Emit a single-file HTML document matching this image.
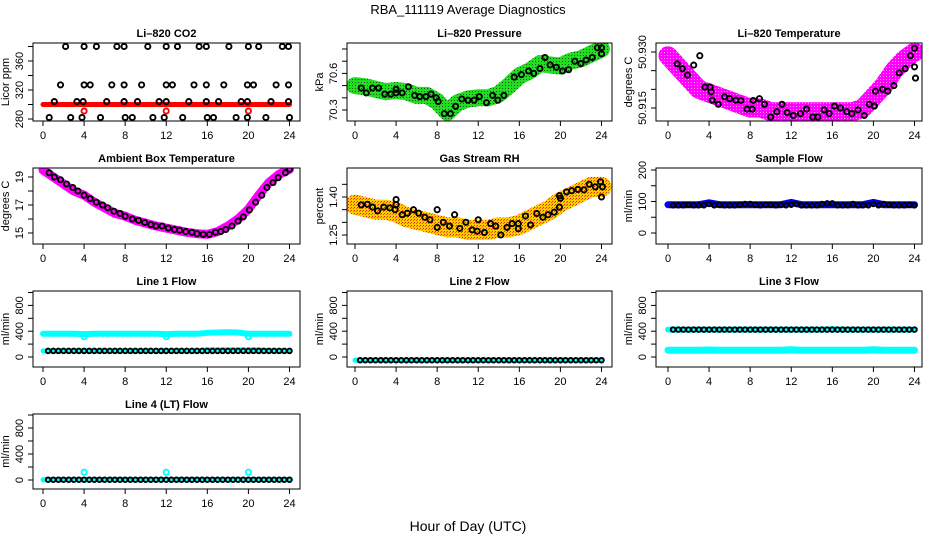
<!DOCTYPE html>
<html><head><meta charset="utf-8"><style>
html,body{margin:0;padding:0;background:#fff}
svg{display:block;font-family:"Liberation Sans",Arial,sans-serif}
</style></head><body>
<svg id="chart" width="936" height="540" viewBox="0 0 936 540" xmlns="http://www.w3.org/2000/svg">
<defs>
<pattern id="pGreen" width="3" height="3" patternUnits="userSpaceOnUse"><rect width="3" height="3" fill="#22dd22"/><rect x="1" y="1" width="1" height="1" fill="#0a5a0a"/></pattern>
<pattern id="pRH" width="3" height="3" patternUnits="userSpaceOnUse"><rect width="3" height="3" fill="#ffcc00"/><rect x="0" y="0" width="1" height="1" fill="#ee2200"/><rect x="2" y="1" width="1" height="1" fill="#ee5500"/></pattern>
<pattern id="pMag" width="3" height="3" patternUnits="userSpaceOnUse"><rect width="3" height="3" fill="#ff00ff"/><rect x="1" y="1" width="1" height="1" fill="#ff99ff"/></pattern>
</defs>
<text x="468" y="14" text-anchor="middle" font-size="13">RBA_111119  Average Diagnostics</text>
<text x="468" y="531" text-anchor="middle" font-size="14">Hour of Day (UTC)</text>
</svg>
<script>
// ---------- data ----------
const xTicks = [0,4,8,12,16,20,24];
const hourlyCats = [0,1,2,3,4,5,6,7,8,9,10,11,12,13,14,15,16,17,18,19,20,21,22,23,24];
const halfHourCats = [];
for (let i = 1; i <= 48; i++) halfHourCats.push(i * 0.5);

// CO2
const co2BandValues = [300,300,300,300,300,300,300,300,300,300,300,300,300,300,300,300,300,300,300,300,300,300,300,300,300];
const co2BlackHours = [2.2,4.0,5.2,7.2,7.9,10.2,12.0,13.1,15.2,15.9,18.1,20.0,21.0,23.3,23.9, 1.7,4.0,4.6,6.7,7.9,9.6,12.0,12.6,14.7,15.9,17.6,19.9,20.5,22.7,23.9, 1.1,3.3,3.9,6.2,7.9,9.2,11.3,12.0,14.2,15.9,17.1,19.3,19.9,22.2,23.9, 0.6,2.7,3.8,5.6,8.0,8.7,10.7,11.8,13.6,16.0,16.6,18.8,19.9,21.7,24.0];
const co2BlackValues = [380,380,380,380,380,380,380,380,380,380,380,380,380,380,380, 327,327,327,327,327,327,327,327,327,327,327,327,327,327,327, 304,304,304,304,304,304,304,304,304,304,304,304,304,304,304, 282,282,282,282,282,282,282,282,282,282,282,282,282,282,282];
const co2RedHours = [4,12,20];
const co2RedValues = [291,291,291];

// Pressure
const presBandValues = [70.50,70.49,70.47,70.45,70.46,70.45,70.42,70.42,70.37,70.28,70.36,70.39,70.40,70.40,70.43,70.50,70.58,70.62,70.68,70.67,70.66,70.70,70.72,70.76,70.80];
const presBlackHours = [0.6,1.1,1.7,2.3,2.9,3.5,4.0,4.0,4.6,5.2,5.8,6.3,6.9,7.4,7.9,8.1,8.7,9.3,9.8,10.4,11.0,11.6,12.1,12.8,13.4,13.9,14.5,15.5,16.2,16.9,17.4,18.0,18.5,19.0,19.6,20.2,20.8,21.4,22.0,22.5,23.1,23.6,24.0,24.0];
const presBlackValues = [70.48,70.44,70.48,70.48,70.43,70.43,70.44,70.47,70.44,70.49,70.42,70.41,70.41,70.43,70.40,70.37,70.27,70.27,70.33,70.39,70.38,70.38,70.41,70.36,70.42,70.38,70.42,70.57,70.59,70.62,70.60,70.64,70.73,70.67,70.65,70.62,70.63,70.70,70.68,70.71,70.73,70.81,70.81,70.76];

// Li-820 temperature
const liTBandValues = [50.929,50.926,50.923,50.920,50.919,50.918,50.917,50.916,50.915,50.915,50.914,50.914,50.914,50.914,50.914,50.914,50.914,50.914,50.914,50.915,50.918,50.921,50.925,50.928,50.930];
const liTBlackHours = [0.9,1.4,1.9,2.5,3.1,3.6,4.1,4.2,4.3,4.9,5.5,6.0,6.6,7.1,7.7,8.2,8.3,8.9,9.4,10.0,10.6,11.1,11.6,12.2,12.9,13.5,14.1,14.6,15.2,15.7,16.2,16.8,17.4,17.9,18.5,19.1,19.6,20.1,20.2,20.9,21.4,22.0,22.5,23.1,23.6,24.0,24.0,24.1];
const liTBlackValues = [50.9268,50.9255,50.9238,50.9265,50.9290,50.9206,50.9206,50.9193,50.9171,50.9160,50.9180,50.9175,50.9171,50.9170,50.9147,50.9147,50.9170,50.9175,50.9160,50.9126,50.9140,50.9160,50.9138,50.9130,50.9135,50.9147,50.9126,50.9126,50.9145,50.9135,50.9155,50.9150,50.9140,50.9135,50.9145,50.9130,50.9160,50.9155,50.9195,50.9200,50.9195,50.9210,50.9244,50.9255,50.9290,50.9310,50.9260,50.9230];

// Ambient box temperature
const ambBandValues = [19.5,19.0,18.5,18.0,17.7,17.2,16.8,16.4,16.2,15.9,15.7,15.5,15.35,15.2,15.05,14.95,14.9,15.1,15.5,16.0,16.7,17.7,18.6,19.2,19.55];
const ambBlackHours = [0.6,1.1,1.7,2.3,2.9,3.4,4.0,4.6,5.2,5.8,6.3,6.9,7.5,8.0,8.7,9.3,9.9,10.5,11.0,11.6,12.2,12.8,13.3,13.9,14.5,15.0,15.6,16.2,16.8,17.3,17.8,18.4,19.0,19.5,20.1,20.7,21.3,21.8,22.4,22.9,23.6,24.0];
const ambBlackValues = [19.3,19.0,18.8,18.5,18.25,18.0,17.7,17.45,17.2,17.0,16.8,16.55,16.4,16.2,16.0,15.9,15.75,15.6,15.5,15.5,15.35,15.25,15.2,15.1,15.05,14.95,14.9,14.9,15.05,15.1,15.25,15.5,15.85,16.15,16.65,17.2,17.7,18.25,18.6,18.95,19.3,19.55];

// Gas stream RH
const rhBandValues = [1.37,1.36,1.35,1.35,1.34,1.32,1.31,1.30,1.29,1.28,1.28,1.27,1.27,1.27,1.28,1.28,1.29,1.31,1.33,1.35,1.38,1.40,1.42,1.44,1.44];
const rhBlackHours = [0.6,1.2,1.7,2.2,2.8,3.4,3.9,4.0,4.0,4.6,5.1,5.7,6.2,6.8,7.3,8.0,8.0,8.6,9.2,9.7,10.2,10.8,11.4,11.9,12.0,12.6,13.2,13.7,14.2,14.8,15.3,15.9,15.9,16.6,17.1,17.7,18.3,18.8,19.4,19.9,19.9,20.0,20.6,21.1,21.7,22.3,22.8,23.4,23.9,24.0,24.1];
const rhBlackValues = [1.369,1.371,1.36,1.345,1.36,1.357,1.35,1.39,1.37,1.33,1.336,1.35,1.336,1.32,1.31,1.35,1.28,1.30,1.285,1.33,1.276,1.30,1.27,1.265,1.31,1.26,1.295,1.285,1.25,1.28,1.295,1.275,1.295,1.325,1.29,1.335,1.32,1.33,1.34,1.36,1.405,1.395,1.42,1.425,1.43,1.428,1.45,1.44,1.46,1.40,1.44];

// Sample flow
const sampleBandValues = [90,90,90,90,96,90,90,90,90,90,90,90,97,90,90,90,90,90,90,90,97,90,90,90,90];
const sampleBlackValues = [88,88,88,90,88,88,88,92,88,90,88,88,88,90,92,92,90,88,90,90,88,90,88,90,92,88,88,88,88,92,94,94,88,88,88,92,88,88,88,92,88,92,90,88,88,88,90,88];

// Line flows
const line1UpperBand = [360,360,360,360,355,360,360,360,360,360,360,360,355,360,360,360,375,380,385,380,360,360,360,360,360];
const line1LowerBand = [95,95,95,95,95,95,95,95,95,95,95,95,95,95,95,95,110,110,110,110,110,110,95,95,95];
const line1DipHours = [4,12,20];
const line1DipValues = [315,315,315];
const line1BlackValues = [95,95,95,95,95,95,95,95,95,95,95,95,95,95,95,95,95,95,95,95,95,95,95,95,95,95,95,95,95,95,95,95,95,95,95,95,95,95,95,95,95,95,95,95,95,95,95,95];
const line2BandValues = [-50,-50,-50,-50,-50,-50,-50,-50,-50,-50,-50,-50,-50,-50,-50,-50,-50,-50,-50,-50,-50,-50,-50,-50,-50];
const line2BlackValues = [-50,-50,-50,-50,-50,-50,-50,-50,-50,-50,-50,-50,-50,-50,-50,-50,-50,-50,-50,-50,-50,-50,-50,-50,-50,-50,-50,-50,-50,-50,-50,-50,-50,-50,-50,-50,-50,-50,-50,-50,-50,-50,-50,-50,-50,-50,-50,-50];
const line3UpperBand = [425,425,425,425,425,425,425,425,425,425,425,425,425,425,425,425,430,425,425,425,425,425,425,425,425];
const line3LowerBand = [105,105,105,105,108,105,105,105,105,105,105,105,112,105,105,105,105,105,105,105,112,105,105,105,105];
const line3BlackValues = [425,425,425,425,425,425,425,425,425,425,425,425,425,425,425,425,425,425,425,425,425,425,425,425,425,425,425,425,425,425,425,425,425,425,425,425,425,425,425,425,425,425,425,425,425,425,425,425];
const line4BandValues = [5,5,5,5,5,5,5,5,5,5,5,5,5,5,5,5,5,5,5,5,5,5,5,5,5];
const line4BlackValues = [5,5,5,5,5,5,5,5,5,5,5,5,5,5,5,5,5,5,5,5,5,5,5,5,5,5,5,5,5,5,5,5,5,5,5,5,5,5,5,5,5,5,5,5,5,5,5,5];
const line4SpikeHours = [4,12,20];
const line4SpikeValues = [120,120,120];

// y ticks / labels
const co2Ticks = [280,300,320,340,360,380]; const co2Labels = ["280","320","360"];
const presTicks = [70.3,70.4,70.5,70.6,70.7,70.8]; const presLabels = ["70.3","70.6"];
const liTTicks = [50.915,50.920,50.925,50.930]; const liTLabels = ["50.915","50.930"];
const ambTicks = [15,16,17,18,19]; const ambLabels = ["15","17","19"];
const rhTicks = [1.25,1.30,1.35,1.40,1.45]; const rhLabels = ["1.25","1.40"];
const sampleTicks = [0,50,100,150,200]; const sampleLabels = ["0","100","200"];
const flowTicks = [0,200,400,600,800,1000]; const flowLabels = ["0","400","800"];

// ---------- drawing ----------
const NS = "http://www.w3.org/2000/svg";
const svg = document.getElementById("chart");
const colX0 = [33,347,656], colX1 = [300,612,922], colZero = [43,355,668];
const rowY0 = [43,168,291,414], rowY1 = [121,244,367,489];
const HOUR_PX = 10.27;

function mk(tag, attrs, parent) {
  const e = document.createElementNS(NS, tag);
  for (const k in attrs) e.setAttribute(k, attrs[k]);
  (parent || svg).appendChild(e);
  return e;
}

function panel(name, col, row, title, ylab, yv1, yp1, yv2, yp2, ticks, labels) {
  const g = mk("g", {});
  
  
  const x0 = colX0[col], x1 = colX1[col], y0 = rowY0[row], y1 = rowY1[row];
  const sx = h => colZero[col] + h * HOUR_PX;
  const sy = v => yp1 + (v - yv1) * (yp2 - yp1) / (yv2 - yv1);
  const clipId = 'clip-' + name;
  const cp = mk("clipPath", {id: clipId}, g);
  mk("rect", {x: x0, y: y0, width: x1 - x0, height: y1 - y0}, cp);
  const plot = mk("g", {"clip-path": "url(#" + clipId + ")"}, g);
  
  
  const box = mk("rect", {x: x0, y: y0, width: x1 - x0, height: y1 - y0, fill: "none", stroke: "#000", "stroke-width": 1}, g);
  
  
  const t = mk("text", {x: (x0 + x1) / 2, y: y0 - 6, "text-anchor": "middle", "font-size": 11, "font-weight": "bold"}, g);
  t.textContent = title;
  
  
  const xa = mk("g", {}, g);
  
  
  mk("line", {x1: sx(xTicks[0]), x2: sx(xTicks[xTicks.length - 1]), y1: y1, y2: y1, stroke: "#000"}, xa);
  xTicks.forEach(v => {
    mk("line", {x1: sx(v), x2: sx(v), y1: y1, y2: y1 + 5, stroke: "#000"}, xa);
    const l = mk("text", {x: sx(v), y: y1 + 18, "text-anchor": "middle", "font-size": 11}, xa);
    l.textContent = v;
    
    
  });
  const ya = mk("g", {}, g);
  
  
  mk("line", {x1: x0, x2: x0, y1: sy(ticks[0]), y2: sy(ticks[ticks.length - 1]), stroke: "#000"}, ya);
  ticks.forEach(v => mk("line", {x1: x0 - 5, x2: x0, y1: sy(v), y2: sy(v), stroke: "#000"}, ya));
  labels.forEach(s => {
    const yy = sy(parseFloat(s)), xx = x0 - 10;
    const l = mk("text", {x: xx, y: yy, "text-anchor": "middle", "font-size": 11, transform: "rotate(-90 " + xx + " " + yy + ")"}, ya);
    l.textContent = s;
    
    
  });
  const yt = mk("text", {x: x0 - 24, y: (y0 + y1) / 2, "text-anchor": "middle", "font-size": 11, transform: "rotate(-90 " + (x0 - 24) + " " + ((y0 + y1) / 2) + ")"}, g);
  yt.textContent = ylab;
  
  
  return {plot, sx, sy};
}

function band(p, name, hours, values, paint, width) {
  const pts = hours.map((h, i) => p.sx(h).toFixed(1) + "," + p.sy(values[i]).toFixed(1)).join(" ");
  const pl = mk("polyline", {points: pts, fill: "none", stroke: paint, "stroke-width": width, "stroke-linejoin": "round", "stroke-linecap": "round"}, p.plot);
  
  
}

function circles(p, name, hours, values, color, r) {
  const g = mk("g", {}, p.plot);
  
  
  hours.forEach((h, i) => {
    const c = mk("circle", {cx: p.sx(h).toFixed(1), cy: p.sy(values[i]).toFixed(1), r: r || 2.6, fill: "none", stroke: color, "stroke-width": 1.9}, g);
    
    
  });
}

p = null;
var p = panel("co2", 0, 0, "Li\u2013820 CO2", "Licor ppm", 280, 119, 320, 90, co2Ticks, co2Labels);
band(p, "co2-band", hourlyCats, co2BandValues, "#ff0000", 5);
circles(p, "co2-red-points", co2RedHours, co2RedValues, "#ff0000");
circles(p, "co2-points", co2BlackHours, co2BlackValues, "#000");

p = panel("pressure", 1, 0, "Li\u2013820 Pressure", "kPa", 70.3, 110, 70.6, 73.4, presTicks, presLabels);
band(p, "pressure-band", hourlyCats, presBandValues, "url(#pGreen)", 17);
circles(p, "pressure-points", presBlackHours, presBlackValues, "#000");

p = panel("li820-temp", 2, 0, "Li\u2013820 Temperature", "degrees C", 50.915, 108, 50.930, 52, liTTicks, liTLabels);
band(p, "li820-temp-band", hourlyCats, liTBandValues, "url(#pMag)", 19);
circles(p, "li820-temp-points", liTBlackHours, liTBlackValues, "#000");

p = panel("ambient", 0, 1, "Ambient Box Temperature", "degrees C", 15, 233, 19, 177, ambTicks, ambLabels);
band(p, "ambient-band", hourlyCats, ambBandValues, "#ff00ff", 9);
circles(p, "ambient-points", ambBlackHours, ambBlackValues, "#000");

p = panel("rh", 1, 1, "Gas Stream RH", "percent", 1.25, 235, 1.40, 197, rhTicks, rhLabels);
band(p, "rh-band", hourlyCats, rhBandValues, "url(#pRH)", 20);
circles(p, "rh-points", rhBlackHours, rhBlackValues, "#000");

p = panel("sample-flow", 2, 1, "Sample Flow", "ml/min", 0, 233, 200, 170, sampleTicks, sampleLabels);
band(p, "sample-flow-band", hourlyCats, sampleBandValues, "#0000ee", 7);
circles(p, "sample-flow-points", halfHourCats, sampleBlackValues, "#000", 2.3);

p = panel("line1", 0, 2, "Line 1 Flow", "ml/min", 0, 357, 200, 344.1, flowTicks, flowLabels);
band(p, "line1-upper-band", hourlyCats, line1UpperBand, "#00ffff", 6);
band(p, "line1-lower-band", hourlyCats, line1LowerBand, "#00ffff", 5);
circles(p, "line1-dips", line1DipHours, line1DipValues, "#00ffff");
circles(p, "line1-points", halfHourCats, line1BlackValues, "#000", 2.3);

p = panel("line2", 1, 2, "Line 2 Flow", "ml/min", 0, 357, 200, 344.1, flowTicks, flowLabels);
band(p, "line2-band", hourlyCats, line2BandValues, "#00ffff", 5);
circles(p, "line2-points", halfHourCats, line2BlackValues, "#000", 2.3);

p = panel("line3", 2, 2, "Line 3 Flow", "ml/min", 0, 357, 200, 344.1, flowTicks, flowLabels);
band(p, "line3-upper-band", hourlyCats, line3UpperBand, "#00ffff", 6);
band(p, "line3-lower-band", hourlyCats, line3LowerBand, "#00ffff", 7);
circles(p, "line3-points", halfHourCats, line3BlackValues, "#000", 2.3);

p = panel("line4", 0, 3, "Line 4 (LT) Flow", "ml/min", 0, 480, 200, 467, flowTicks, flowLabels);
band(p, "line4-band", hourlyCats, line4BandValues, "#00ffff", 5);
circles(p, "line4-spikes", line4SpikeHours, line4SpikeValues, "#00ffff");
circles(p, "line4-points", halfHourCats, line4BlackValues, "#000", 2.3);
</script>
</body></html>
